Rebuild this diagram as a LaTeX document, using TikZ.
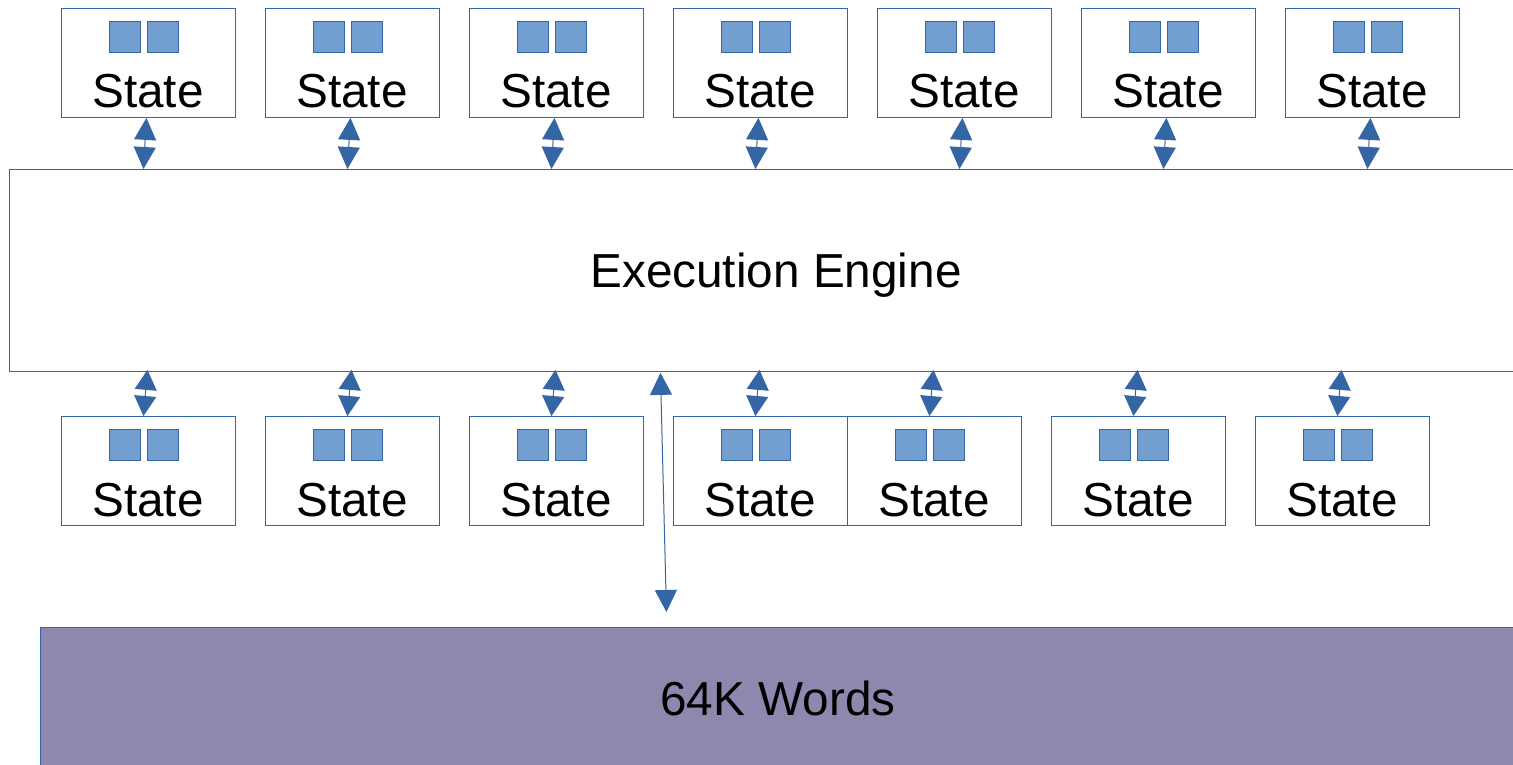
\documentclass[tikz,border=0pt]{standalone}
\usepackage{fontspec}
\setmainfont{Liberation Sans}
\usetikzlibrary{arrows.meta,calc}
\definecolor{boxline}{HTML}{3465A4}
\definecolor{sqfill}{HTML}{729FCF}
\definecolor{memfill}{HTML}{8E87AE}
\tikzset{
 statebox/.style={draw=boxline, line width=0.9pt, minimum width=174pt, minimum height=109pt, inner sep=0pt, fill=white, anchor=north west},
 sq/.style={draw=boxline, fill=sqfill, line width=0.8pt, minimum size=31pt, inner sep=0pt, anchor=north west},
 lbl/.style={font=\fontsize{47.7}{57}\selectfont, anchor=base, inner sep=0pt},
 link/.style={draw=boxline, line width=1pt, {Triangle[width=22pt,length=22pt]}-{Triangle[width=22pt,length=22pt]}},
 shortlink/.style={draw=boxline, line width=1pt, {Triangle[width=22pt,length=20pt]}-{Triangle[width=22pt,length=20pt]}}
}
\begin{document}
\begin{tikzpicture}[x=1pt,y=-1pt]
\useasboundingbox (0,0) rectangle (1513,765);
\clip (0,0) rectangle (1513,765);
\fill[white] (0,0) rectangle (1513,765);
% execution engine
\node[draw=boxline, line width=0.9pt, minimum width=1534pt, minimum height=202pt, anchor=north west, inner sep=0pt] (eng) at (9,169) {};
\node[lbl] (engt) at (776,287) {Execution Engine};
% memory
\node[draw=boxline, fill=memfill, line width=0.9pt, minimum width=1476pt, minimum height=200pt, anchor=north west, inner sep=0pt] (mem) at (40,627) {};
\node[lbl] (memt) at (778,715) {64K Words};
% top states
\foreach \i/\x in {1/61,2/265,3/469,4/673,5/877,6/1081,7/1285}{
  \node[statebox] (t\i) at (\x,8) {};
  \node[sq] (tsa\i) at (\x+48,21) {};
  \node[sq] (tsb\i) at (\x+86,21) {};
  \node[lbl] (tl\i) at (\x+87,108) {State};
  \draw[link] ([xshift=-2pt]t\i.south) -- ([xshift=-5pt]t\i.south |- eng.north);
}
% bottom states
\foreach \i/\x in {1/61,2/265,3/469,4/673,5/847,6/1051,7/1255}{
  \node[statebox] (b\i) at (\x,416) {};
  \node[sq] (bsa\i) at (\x+48,429) {};
  \node[sq] (bsb\i) at (\x+86,429) {};
  \node[lbl] (bl\i) at (\x+87,516) {State};
  \draw[shortlink] ([xshift=-1pt,yshift=2pt]b\i.north |- eng.south) -- ([xshift=-5pt]b\i.north);
}
% long link to memory
\coordinate (memtap) at ([xshift=-112pt,yshift=15pt]mem.north);
\draw[link] ([xshift=-116pt,yshift=-1pt]eng.south) -- (memtap);
\end{tikzpicture}
\end{document}
